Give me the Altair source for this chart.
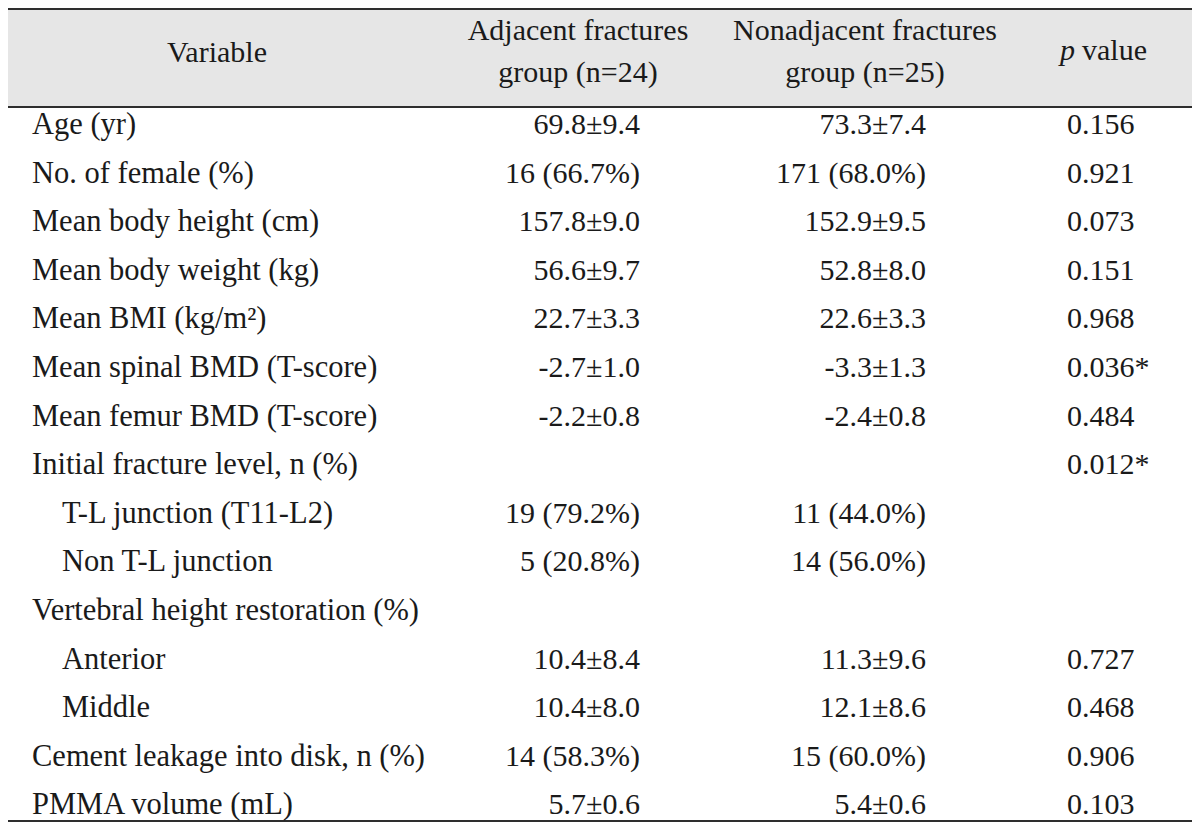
import altair as alt
import pandas as pd

# ---------------- data ----------------
variables = [
    "Age (yr)", "No. of female (%)", "Mean body height (cm)", "Mean body weight (kg)",
    "Mean BMI (kg/m²)", "Mean spinal BMD (T-score)", "Mean femur BMD (T-score)",
    "Initial fracture level, n (%)", "T-L junction (T11-L2)", "Non T-L junction",
    "Vertebral height restoration (%)", "Anterior", "Middle",
    "Cement leakage into disk, n (%)", "PMMA volume (mL)",
]
indented = [0, 0, 0, 0, 0, 0, 0, 0, 1, 1, 0, 1, 1, 0, 0]
adjacent = ["69.8±9.4", "16 (66.7%)", "157.8±9.0", "56.6±9.7", "22.7±3.3", "-2.7±1.0",
            "-2.2±0.8", "", "19 (79.2%)", "5 (20.8%)", "", "10.4±8.4", "10.4±8.0",
            "14 (58.3%)", "5.7±0.6"]
nonadjacent = ["73.3±7.4", "171 (68.0%)", "152.9±9.5", "52.8±8.0", "22.6±3.3", "-3.3±1.3",
               "-2.4±0.8", "", "11 (44.0%)", "14 (56.0%)", "", "11.3±9.6", "12.1±8.6",
               "15 (60.0%)", "5.4±0.6"]
p_values = ["0.156", "0.921", "0.073", "0.151", "0.968", "0.036*", "0.484", "0.012*",
            "", "", "", "0.727", "0.468", "0.906", "0.103"]
header_variable = "Variable"
header_adjacent = ["Adjacent fractures", "group (n=24)"]
header_nonadjacent = ["Nonadjacent fractures", "group (n=25)"]
header_p = ["p", "value"]

# ---------------- layout (reference pixel units; page margin is 8px) ----------------
MARGIN = 8
W, H = 1184, 814
ROW0, PITCH = 125, 48.6
X_LABEL, X_INDENT = 32, 62
X_ADJ, X_NON, X_P = 640, 926, 1067
FONT = "Liberation Serif"
FS_LABEL = 30.5
FS = 30
TXT = "#1a1a1a"

xs = alt.Scale(domain=[MARGIN, MARGIN + W], range=[0, W], nice=False, zero=False)
ys = alt.Scale(domain=[MARGIN, MARGIN + H], range=[0, H], nice=False, zero=False)

rows_label, rows_left, rows_right = [], [], []
for i, v in enumerate(variables):
    y = ROW0 + PITCH * i
    rows_label.append({"t": v, "x": X_INDENT if indented[i] else X_LABEL, "y": y})
    if p_values[i]:
        rows_left.append({"t": p_values[i], "x": X_P, "y": y})
    if adjacent[i]:
        rows_right.append({"t": adjacent[i], "x": X_ADJ, "y": y})
    if nonadjacent[i]:
        rows_right.append({"t": nonadjacent[i], "x": X_NON, "y": y})

head_center = [
    {"t": header_variable, "x": 217, "y": 53},
    {"t": header_adjacent[0], "x": 578, "y": 31},
    {"t": header_adjacent[1], "x": 578, "y": 73},
    {"t": header_nonadjacent[0], "x": 865, "y": 31},
    {"t": header_nonadjacent[1], "x": 865, "y": 73},
]
head_p_italic = [{"t": header_p[0], "x": 1075, "y": 51}]
head_p_rest = [{"t": header_p[1], "x": 1082, "y": 51}]

band = pd.DataFrame([{"x": MARGIN, "x2": MARGIN + W, "y": MARGIN, "y2": 107}])
lines = pd.DataFrame([
    {"x": MARGIN, "x2": MARGIN + W, "y": MARGIN + 1},
    {"x": MARGIN, "x2": MARGIN + W, "y": 107},
    {"x": MARGIN, "x2": MARGIN + W, "y": MARGIN + H - 1},
])


def enc(df_mark):
    return df_mark.encode(
        x=alt.X("x:Q", scale=xs, axis=None),
        y=alt.Y("y:Q", scale=ys, axis=None),
        text="t:N",
    )


band_layer = alt.Chart(band).mark_rect(color="#e6e6e6").encode(
    x=alt.X("x:Q", scale=xs, axis=None), x2="x2:Q",
    y=alt.Y("y:Q", scale=ys, axis=None), y2="y2:Q",
)
line_layer = alt.Chart(lines).mark_rule(color="#2e2e2e", strokeWidth=2).encode(
    x=alt.X("x:Q", scale=xs, axis=None), x2="x2:Q",
    y=alt.Y("y:Q", scale=ys, axis=None),
)

common = dict(font=FONT, color=TXT, baseline="middle")
label_layer = enc(alt.Chart(pd.DataFrame(rows_label)).mark_text(align="left", fontSize=FS_LABEL, **common))
left_layer = enc(alt.Chart(pd.DataFrame(rows_left)).mark_text(align="left", fontSize=FS, **common))
right_layer = enc(alt.Chart(pd.DataFrame(rows_right)).mark_text(align="right", fontSize=FS, **common))
head_layer = enc(alt.Chart(pd.DataFrame(head_center)).mark_text(align="center", fontSize=FS, **common))
p_it_layer = enc(alt.Chart(pd.DataFrame(head_p_italic)).mark_text(align="right", fontStyle="italic", fontSize=FS, **common))
p_rest_layer = enc(alt.Chart(pd.DataFrame(head_p_rest)).mark_text(align="left", fontSize=FS, **common))

chart = alt.layer(
    band_layer, line_layer, label_layer, left_layer, right_layer, head_layer, p_it_layer, p_rest_layer
).properties(
    width=W, height=H, padding=0, autosize=alt.AutoSizeParams(type="none"),
    background="white",
).configure_view(stroke=None)

chart.save("out.html", embed_options={"renderer": "svg", "actions": False})
